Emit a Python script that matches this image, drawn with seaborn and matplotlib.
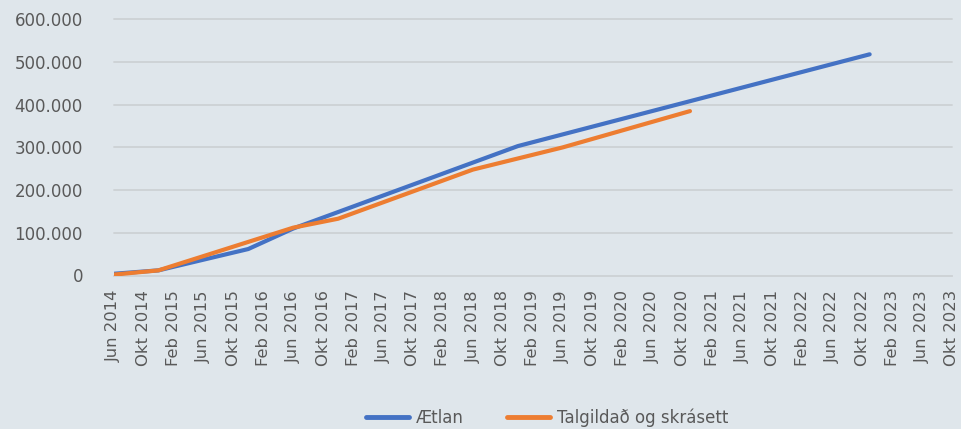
import pandas as pd
import numpy as np
import seaborn as sns
import matplotlib.pyplot as plt
from matplotlib.ticker import FuncFormatter

# data (kinks of the lines), values in count
aetlan_dates = ["2014-06", "2014-12", "2015-12", "2016-06", "2018-12", "2022-11"]
aetlan_values = [4000, 12000, 62000, 110000, 303000, 518000]

talgilt_dates = ["2014-06", "2014-12", "2016-06", "2016-12", "2018-06", "2019-06", "2020-11"]
talgilt_values = [2000, 12000, 112000, 133000, 248000, 300000, 385000]

series_names = ["Ætlan", "Talgildað og skrásett"]
month_names = {2: "Feb", 6: "Jun", 10: "Okt"}
axis_start = "2014-06"
axis_end = "2023-10"
yticks = [0, 100000, 200000, 300000, 400000, 500000, 600000]

bg = "#dfe6eb"
grid_col = "#cdd1d4"
text_col = "#595959"
colors = ["#4472C4", "#ED7D31"]


def month_index(d):
    d = pd.Period(d, freq="M")
    s = pd.Period(axis_start, freq="M")
    return (d.year - s.year) * 12 + (d.month - s.month)


df = pd.concat([
    pd.DataFrame({"month": [month_index(d) for d in aetlan_dates],
                  "value": aetlan_values, "series": series_names[0]}),
    pd.DataFrame({"month": [month_index(d) for d in talgilt_dates],
                  "value": talgilt_values, "series": series_names[1]}),
])

tick_periods = pd.period_range(axis_start, axis_end, freq="M")[::4]
tick_pos = [month_index(p) for p in tick_periods]
tick_labels = [f"{month_names[p.month]} {p.year}" for p in tick_periods]

sns.set_theme(style="white")
plt.rcParams["font.family"] = ["DejaVu Sans"]

fig = plt.figure(figsize=(9.61, 4.29), dpi=100, facecolor=bg)
ax = fig.add_axes([113.5 / 961, 1 - 275.5 / 429, (952 - 113.5) / 961, (275.5 - 19.3) / 429])
ax.set_facecolor(bg)

sns.lineplot(data=df, x="month", y="value", hue="series", palette=colors,
             linewidth=3, sort=False, legend=False, ax=ax,
             solid_capstyle="round", zorder=3)

ax.set_xlim(0, tick_pos[-1])
ax.set_ylim(0, 600000)
ax.set_yticks(yticks)
ax.yaxis.set_major_formatter(FuncFormatter(lambda v, p: f"{int(v):,}".replace(",", ".")))
ax.set_xticks(tick_pos)
ax.set_xticklabels(tick_labels, rotation=90)

for v in yticks[1:]:
    ax.axhline(v, color=grid_col, lw=1.3, zorder=1, clip_on=False)

for s in ["top", "right", "left"]:
    ax.spines[s].set_visible(False)
ax.spines["bottom"].set_color(grid_col)
ax.spines["bottom"].set_linewidth(1.3)

ax.tick_params(axis="y", length=0, pad=22, labelsize=12, labelcolor=text_col)
ax.tick_params(axis="x", length=4.5, width=1.2, color=grid_col, pad=6,
               labelsize=11.8, labelcolor=text_col, direction="out")
ax.set_xlabel("")
ax.set_ylabel("")

handles = [plt.Line2D([], [], color=c, lw=3.5, solid_capstyle="round") for c in colors]
fig.legend(handles, series_names, loc="center", bbox_to_anchor=(0.569, 0.026),
           ncol=2, frameon=False, fontsize=12, labelcolor=text_col,
           handlelength=2.6, handletextpad=0.4, columnspacing=2.6)

fig.savefig("out.png", dpi=100, facecolor=bg)
